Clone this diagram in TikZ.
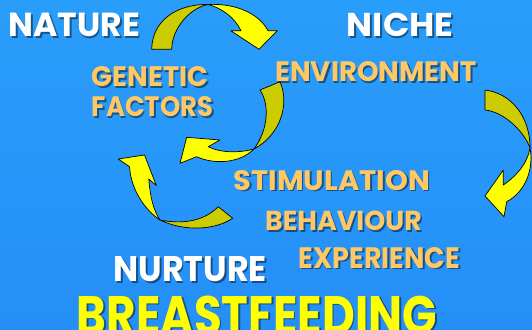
\documentclass[tikz,border=0pt]{standalone}
\usepackage{graphicx}
\usepackage{fontspec}
\setmainfont{Poppins}
\definecolor{btop}{RGB}{30,92,242}
\definecolor{bmid}{RGB}{42,160,250}
\definecolor{bmid2}{RGB}{36,140,248}
\definecolor{blow}{RGB}{30,95,245}
\definecolor{bbot}{RGB}{15,40,235}
\definecolor{ayel}{RGB}{255,255,0}
\definecolor{aolv}{RGB}{204,204,0}
\definecolor{torg}{RGB}{255,200,100}
\definecolor{tyel}{RGB}{255,255,0}
\pgfdeclareverticalshading{bgshade}{532pt}{color(0pt)=(bbot); color(49pt)=(blow); color(129pt)=(bmid2); color(199pt)=(bmid); color(260pt)=(bmid2); color(329pt)=(btop)}
\tikzset{
  front/.style={fill=ayel,draw=black,line width=0.7pt,line join=round},
  back/.style={fill=aolv,draw=black,line width=0.7pt,line join=round},
  lab/.style={inner sep=0pt,anchor=base west,font=\bfseries},
  labshadow/.style={inner sep=0pt,anchor=base west,font=\bfseries,text=black,text opacity=0.45}
}
\newcommand\mylbl[7]{%
  \node[labshadow] (#1s) at ({#2+1.6},{#3+1.6}) {\resizebox{#4pt}{#5pt}{#7}};
  \node[lab,text=#6] (#1) at (#2,#3) {\resizebox{#4pt}{#5pt}{#7}};
}
\begin{document}
\begin{tikzpicture}[x=1pt,y=-1pt]
\useasboundingbox (0,0) rectangle (532,329);
\clip (0,0) rectangle (532,329);
\shade[shading=bgshade] (0,0) rectangle (532,329);

% arrow 1 (top)
\draw[back] (151.7,49.3) .. controls (152,22) and (175,4) .. (208,4.5)
  .. controls (190,8) and (172,28) .. (171.7,49.3) -- cycle;
\draw[front] (208,4.5) .. controls (238,3) and (260,15) .. (268,30.7)
  -- (277.3,30.7) -- (259,49.3) -- (230.7,30.7) -- (241,30.7)
  .. controls (235,18) and (222,8) .. (208,4.5) -- cycle;

% arrow 2 (environment to genetic)
\draw[back] (280,81.7) .. controls (290,105) and (280,135) .. (254,149)
  .. controls (268,130) and (270,105) .. (260,90) -- cycle;
\draw[front] (254,149) .. controls (240,153) and (220,153) .. (208.3,146.7)
  -- (220,140) -- (186.7,137.3) -- (180,163.3) -- (196.7,156.7)
  .. controls (215,165) and (240,163) .. (254,149) -- cycle;

% arrow 3 (right)
\draw[back] (485,90) .. controls (510,93) and (530,115) .. (530,148)
  .. controls (525,133) and (505,112) .. (485,110) -- cycle;
\draw[front] (530,148) .. controls (534,170) and (525,192) .. (506.7,201.7)
  -- (504,216.7) -- (485,196) -- (503.3,170) -- (503.3,185)
  .. controls (515,177) and (527,165) .. (530,148) -- cycle;

% arrow 4 (left)
\draw[back] (160,220) .. controls (185,232) and (215,230) .. (232.7,218.3)
  -- (218.3,206.7) .. controls (205,220) and (185,225) .. (160,220) -- cycle;
\draw[front] (118.3,159) -- (144.5,155) -- (156.3,185.5) -- (148.8,179)
  .. controls (150,195) and (153,210) .. (160,220)
  .. controls (145,210) and (131,190) .. (129.5,166.7) -- cycle;

\mylbl{nature}{8.3}{36.7}{131.7}{23.4}{white}{NATURE}
\mylbl{niche}{346.7}{36.7}{106.6}{23.4}{white}{NICHE}
\mylbl{genetic}{91.7}{86.7}{116.6}{20}{torg}{GENETIC}
\mylbl{factors}{91.7}{116.7}{121.6}{20}{torg}{FACTORS}
\mylbl{env}{275}{81.7}{201.7}{20}{torg}{ENVIRONMENT}
\mylbl{stim}{233.3}{190}{196.7}{20}{torg}{STIMULATION}
\mylbl{behav}{265}{230.7}{156.7}{19.5}{torg}{BEHAVIOUR}
\mylbl{exper}{298.3}{268.3}{161.7}{21}{torg}{EXPERIENCE}
\mylbl{nurture}{113.3}{281.7}{153.4}{25}{white}{NURTURE}
\mylbl{breast}{76.7}{334}{360}{38.5}{tyel}{BREASTFEEDING}
\end{tikzpicture}
\end{document}
